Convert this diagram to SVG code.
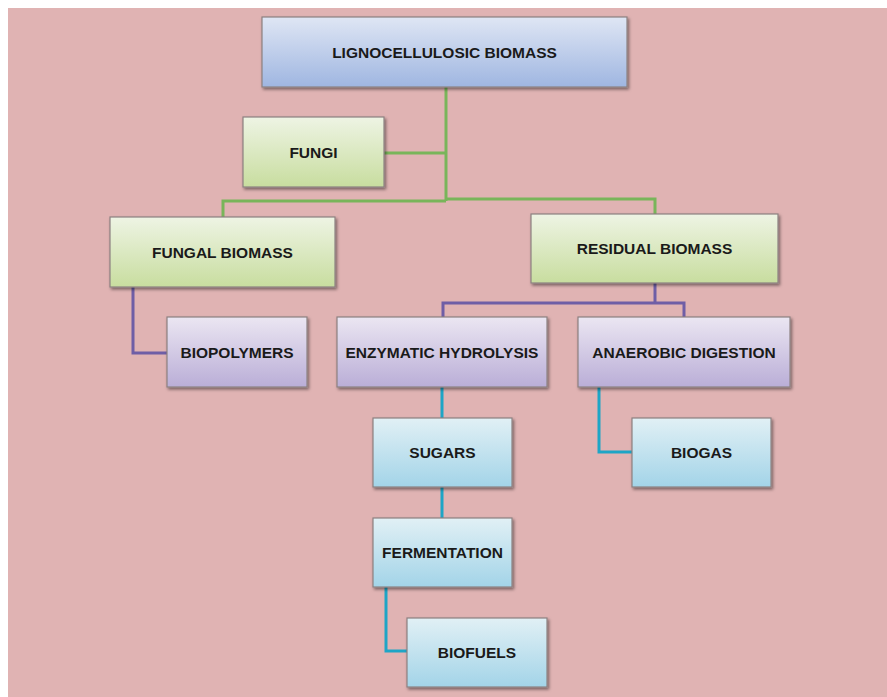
<svg xmlns="http://www.w3.org/2000/svg" width="887" height="697" viewBox="0 0 887 697">
<defs>
<linearGradient id="gBlue" x1="0" y1="0" x2="0" y2="1"><stop offset="0" stop-color="#dfe6f4"/><stop offset="1" stop-color="#9fb6e1"/></linearGradient>
<linearGradient id="gGreen" x1="0" y1="0" x2="0" y2="1"><stop offset="0" stop-color="#eef4e4"/><stop offset="1" stop-color="#c8dd9f"/></linearGradient>
<linearGradient id="gPurple" x1="0" y1="0" x2="0" y2="1"><stop offset="0" stop-color="#ebe6f2"/><stop offset="1" stop-color="#baaed7"/></linearGradient>
<linearGradient id="gTeal" x1="0" y1="0" x2="0" y2="1"><stop offset="0" stop-color="#e1f0f5"/><stop offset="1" stop-color="#a3d4e8"/></linearGradient>
<filter id="sh" x="-10%" y="-10%" width="125%" height="135%"><feDropShadow dx="1.5" dy="2" stdDeviation="1.5" flood-color="#000" flood-opacity="0.45"/></filter>
</defs>
<style>
.box{stroke:#8c8080;stroke-width:1.2;filter:url(#sh)}
.t{font-family:"Liberation Sans",Arial,sans-serif;font-weight:bold;font-size:15.5px;fill:#1a1a1a;text-anchor:middle;dominant-baseline:central}
.cg{fill:none;stroke:#79b55a;stroke-width:3}
.cp{fill:none;stroke:#6f5ea6;stroke-width:3}
.ct{fill:none;stroke:#1ea5c6;stroke-width:3}
</style>
<rect x="0" y="0" width="887" height="697" fill="#ffffff"/>
<rect x="8" y="8" width="879" height="689" fill="#e0b3b3"/>
<g id="connectors">
<path class="cg" d="M446 87 V201"/>
<path class="cg" d="M384 153 H446"/>
<path class="cg" d="M223 217 V201 H446"/>
<path class="cg" d="M446 199 H655 V214"/>
<path class="cp" d="M133 287 V353 H167"/>
<path class="cp" d="M655 283 V303"/>
<path class="cp" d="M443 317 V303 H684 V317"/>
<path class="ct" d="M442 387 V418"/>
<path class="ct" d="M442 487 V518"/>
<path class="ct" d="M599 387 V452 H632"/>
<path class="ct" d="M386 587 V651 H407"/>
</g>
<g id="lignocellulosic"><rect class="box" x="262" y="17" width="365" height="70" fill="url(#gBlue)"/><text class="t" x="444.5" y="52">LIGNOCELLULOSIC BIOMASS</text></g>
<g id="fungi"><rect class="box" x="243" y="117" width="141" height="70" fill="url(#gGreen)"/><text class="t" x="313.5" y="152">FUNGI</text></g>
<g id="fungal-biomass"><rect class="box" x="110" y="217" width="225" height="70" fill="url(#gGreen)"/><text class="t" x="222.5" y="252">FUNGAL BIOMASS</text></g>
<g id="residual-biomass"><rect class="box" x="531" y="214" width="247" height="69" fill="url(#gGreen)"/><text class="t" x="654.5" y="248.5">RESIDUAL BIOMASS</text></g>
<g id="biopolymers"><rect class="box" x="167" y="317" width="140" height="70" fill="url(#gPurple)"/><text class="t" x="237" y="352">BIOPOLYMERS</text></g>
<g id="enzymatic"><rect class="box" x="337" y="317" width="210" height="70" fill="url(#gPurple)"/><text class="t" x="442" y="352">ENZYMATIC HYDROLYSIS</text></g>
<g id="anaerobic"><rect class="box" x="578" y="317" width="212" height="70" fill="url(#gPurple)"/><text class="t" x="684" y="352">ANAEROBIC DIGESTION</text></g>
<g id="sugars"><rect class="box" x="373" y="418" width="139" height="69" fill="url(#gTeal)"/><text class="t" x="442.5" y="452.5">SUGARS</text></g>
<g id="biogas"><rect class="box" x="632" y="418" width="139" height="69" fill="url(#gTeal)"/><text class="t" x="701.5" y="452.5">BIOGAS</text></g>
<g id="fermentation"><rect class="box" x="373" y="518" width="139" height="69" fill="url(#gTeal)"/><text class="t" x="442.5" y="552.5">FERMENTATION</text></g>
<g id="biofuels"><rect class="box" x="407" y="618" width="140" height="69" fill="url(#gTeal)"/><text class="t" x="477" y="652.5">BIOFUELS</text></g>
</svg>
